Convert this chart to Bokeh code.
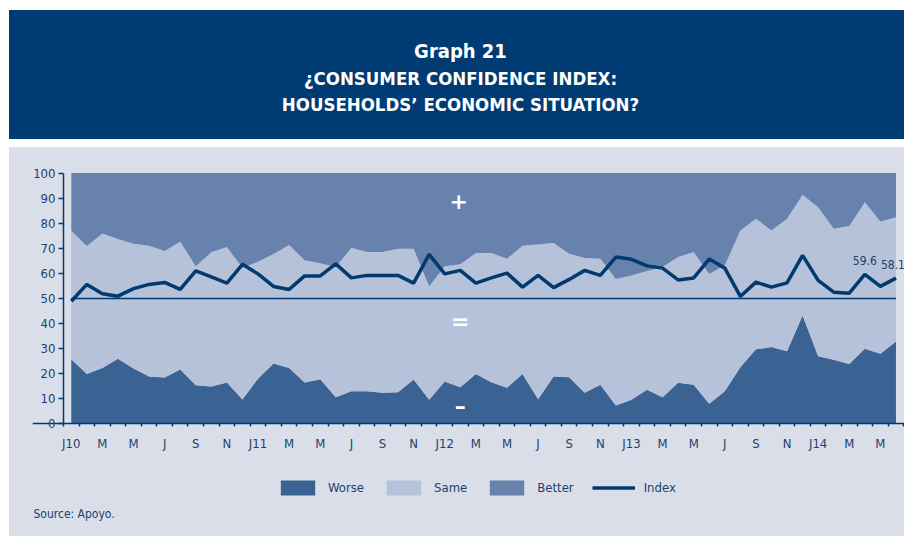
from bokeh.plotting import figure
from bokeh.models import Range1d, FixedTicker, Legend, LegendItem
from bokeh.embed import file_html
from bokeh.resources import INLINE
from bokeh.core.properties import value

FONT = "DejaVu Sans Condensed"

# ---- data (percent of households, Jan 2010 .. Jun 2014) ----
worse = [25.7, 19.9, 22.3, 25.9, 22.1, 18.9, 18.5, 21.7, 15.4, 14.9, 16.5, 9.7,
         18.0, 24.1, 22.3, 16.5, 17.8, 10.6, 13.0, 13.0, 12.4, 12.6, 17.7, 9.6,
         16.9, 14.6, 19.9, 16.6, 14.4, 19.9, 9.8, 18.9, 18.6, 12.4, 15.6, 7.3,
         9.6, 13.6, 10.6, 16.4, 15.6, 8.0, 13.0, 22.6, 29.7, 30.6, 28.9, 43.2,
         26.9, 25.5, 23.9, 29.9, 27.9, 32.8]
same = [51.3, 51.0, 53.6, 47.8, 49.7, 52.1, 50.4, 50.9, 47.4, 53.5, 54.0, 52.5,
        46.6, 43.6, 49.0, 48.7, 46.2, 51.9, 57.2, 55.5, 56.1, 57.2, 52.1, 45.3,
        45.9, 49.0, 48.2, 51.5, 51.4, 51.1, 61.7, 53.2, 49.2, 53.7, 50.2, 50.5,
        49.6, 47.3, 51.9, 50.1, 52.9, 51.8, 50.2, 54.5, 52.1, 46.5, 52.9, 48.2,
        59.5, 52.3, 55.0, 58.5, 52.8, 49.6]
better = [23.0, 29.1, 24.1, 26.3, 28.2, 29.0, 31.1, 27.4, 37.2, 31.6, 29.5, 37.8,
          35.4, 32.3, 28.7, 34.8, 36.0, 37.5, 29.8, 31.5, 31.5, 30.2, 30.2, 45.1,
          37.2, 36.4, 31.9, 31.9, 34.2, 29.0, 28.5, 27.9, 32.2, 33.9, 34.2, 42.2,
          40.8, 39.1, 37.5, 33.5, 31.5, 40.2, 36.8, 22.9, 18.2, 22.9, 18.2, 8.6,
          13.6, 22.2, 21.1, 11.6, 19.3, 17.6]
index = [48.9, 55.6, 51.9, 50.9, 53.9, 55.6, 56.4, 53.6, 61.0, 58.6, 56.1, 63.6,
         59.8, 54.8, 53.6, 59.0, 59.0, 63.8, 58.2, 59.2, 59.2, 59.2, 56.1, 67.6,
         59.8, 61.2, 56.1, 58.2, 60.1, 54.5, 59.2, 54.3, 57.6, 61.2, 59.2, 66.5,
         65.6, 63.0, 62.1, 57.4, 58.2, 65.7, 62.1, 50.8, 56.5, 54.5, 56.2, 67.2,
         57.2, 52.5, 52.1, 59.6, 54.8, 58.1]
tick_labels = ["J10", "M", "M", "J", "S", "N", "J11", "M", "M", "J", "S", "N",
               "J12", "M", "M", "J", "S", "N", "J13", "M", "M", "J", "S", "N",
               "J14", "M", "M"]
series_names = ["Worse", "Same", "Better", "Index"]
title_lines = ["Graph 21", "¿CONSUMER CONFIDENCE INDEX:", "HOUSEHOLDS’ ECONOMIC SITUATION?"]
source_text = "Source: Apoyo."
neutral_level = 50

# ---- colours ----
NAVY = "#003B73"
PANEL = "#D9DEE9"
C_WORSE = "#3A6292"
C_SAME = "#B6C1DA"
C_BETTER = "#6782AD"
C_INDEX = "#003A6E"
TXT = "#1F3F70"

x = list(range(len(worse)))
top_worse = worse
top_same = [w + s for w, s in zip(worse, same)]
top_better = [t + b for t, b in zip(top_same, better)]

# ---- geometry (pixels) ----
W, H = 904, 536
FL = 32                          # frame left (y-axis panel)
AXIS_X_PX = 63                   # pixel column of the y axis line
Y0_PX, Y100_PX = 423.3, 172.6    # pixel rows of 0 and 100
UNIT_Y = (Y0_PX - Y100_PX) / 100.0
PITCH = 15.56
X_START = -0.5 - (AXIS_X_PX - FL) / PITCH
X_END = -0.5 + (W - AXIS_X_PX) / PITCH

def dx(px):
    return X_START + (px - FL) / PITCH

def dy(py):
    return (Y0_PX - py) / UNIT_Y

p = figure(width=W, height=H, output_backend="svg", toolbar_location=None,
           x_range=Range1d(X_START, X_END), y_range=Range1d(dy(H), dy(0)),
           x_axis_location="above", y_axis_location="left",
           min_border_left=FL, min_border_right=0, min_border_top=0, min_border_bottom=0)
p.background_fill_color = None
p.border_fill_color = None
p.outline_line_color = None
p.grid.visible = False
# page furniture: white margins, navy title band, grey-blue panel
p.styles = {
    "background": (f"linear-gradient(to right, #ffffff 0px, #ffffff 9px, transparent 9px), "
                   f"linear-gradient(to bottom, #ffffff 0px, #ffffff 10px, {NAVY} 10px, {NAVY} 139px, "
                   f"#ffffff 139px, #ffffff 147px, {PANEL} 147px)")
}

# header text
p.text(x=[dx(460)], y=[dy(50)], text=title_lines[:1],
       text_font=value(FONT), text_font_style="bold", text_font_size="20px",
       text_color="white", text_align="center", text_baseline="middle")
p.text(x=[dx(460)] * 2, y=[dy(78), dy(104)], text=title_lines[1:],
       text_font=value(FONT), text_font_style="bold", text_font_size="18.5px",
       text_color="white", text_align="center", text_baseline="middle")

r_w = p.varea(x=x, y1=0, y2=top_worse, fill_color=C_WORSE)
r_s = p.varea(x=x, y1=top_worse, y2=top_same, fill_color=C_SAME)
r_b = p.varea(x=x, y1=top_same, y2=top_better, fill_color=C_BETTER)
p.segment(x0=[x[0]], x1=[x[-1]], y0=[neutral_level], y1=[neutral_level],
          line_color=C_INDEX, line_width=1.5)
r_i = p.line(x, index, line_color=C_INDEX, line_width=3.5)

# end-value labels
lab_idx = [len(index) - 3, len(index) - 1]
p.text(x=lab_idx, y=[index[i] + 5.5 for i in lab_idx],
       text=[f"{index[i]:.1f}" for i in lab_idx], text_font=value(FONT),
       text_font_size="12px", text_color=TXT, text_align="center", text_baseline="middle",
       x_offset=[0, -3])

# region symbols
p.text(x=[24.9, 25.0, 25.0], y=[89, 41, 7], text=["+", "=", "–"], text_font=value("DejaVu Sans"),
       text_font_style="bold", text_font_size="22px", text_color="white",
       text_align="center", text_baseline="middle")

# source note
p.text(x=[dx(33)], y=[dy(513)], text=[source_text], text_font=value(FONT),
       text_font_size="12px", text_color=TXT, text_align="left", text_baseline="middle")

# x axis: drawn at y = 0 inside the frame
xa = p.xaxis[0]
xa.fixed_location = 0
xa.ticker = FixedTicker(ticks=list(range(0, len(x), 2)),
                        minor_ticks=[i - 0.5 for i in range(len(x) + 1)])
xa.major_label_overrides = {i * 2: t for i, t in enumerate(tick_labels)}
xa.major_tick_in = 0
xa.major_tick_out = 0
xa.minor_tick_in = 3
xa.minor_tick_out = 0
xa.minor_tick_line_color = C_INDEX
xa.minor_tick_line_width = 1.5
xa.axis_line_color = C_INDEX
xa.axis_line_width = 1.5
xa.major_label_standoff = -27
xa.major_label_text_font = FONT
xa.major_label_text_font_size = "13px"
xa.major_label_text_color = TXT

# y axis at the first month boundary
ya = p.yaxis[0]
ya.fixed_location = -0.5
ya.ticker = FixedTicker(ticks=list(range(0, 101, 10)))
ya.bounds = (0, 100)
ya.major_tick_in = 0
ya.major_tick_out = 5
ya.minor_tick_out = 0
ya.minor_tick_in = 0
ya.major_tick_line_color = C_INDEX
ya.major_tick_line_width = 1.5
ya.axis_line_color = C_INDEX
ya.axis_line_width = 1.5
ya.major_label_standoff = 3
ya.major_label_text_font = FONT
ya.major_label_text_font_size = "13px"
ya.major_label_text_color = TXT

legend = Legend(items=[LegendItem(label=series_names[0], renderers=[r_w]),
                       LegendItem(label=series_names[1], renderers=[r_s]),
                       LegendItem(label=series_names[2], renderers=[r_b]),
                       LegendItem(label=series_names[3], renderers=[r_i])],
                location=(276 - FL, H - 497), orientation="horizontal",
                glyph_width=43, glyph_height=19, label_standoff=9, spacing=18,
                padding=0, margin=0, background_fill_alpha=0, border_line_color=None,
                label_text_font=FONT, label_text_font_size="13px",
                label_text_color=TXT, label_height=19)
p.add_layout(legend, "center")

open("out.html", "w").write(file_html(p, INLINE))
